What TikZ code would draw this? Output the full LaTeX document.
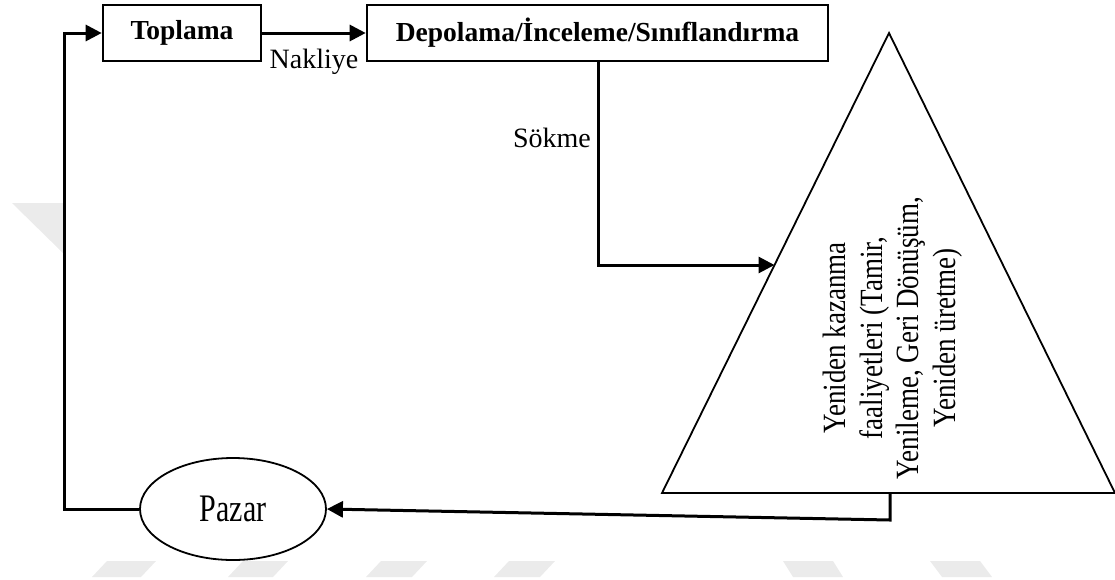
\documentclass[tikz,border=0pt]{standalone}
\usepackage{fontspec}
\setmainfont{Liberation Serif}
\usetikzlibrary{arrows.meta,shapes.geometric}
\tikzset{
  procbox/.style={draw, line width=2.6pt, inner sep=0pt, minimum height=56pt, font=\fontsize{27.5}{32}\selectfont\bfseries},
  flow/.style={line width=3pt, -{Triangle[length=16pt,width=16pt]}},
  lbl/.style={inner sep=0pt, font=\fontsize{28}{33}\selectfont},
  wmark/.style={fill=black!8, draw=none},
}
\begin{document}
\begin{tikzpicture}[x=1pt,y=-1pt]
\useasboundingbox (0,0) rectangle (1115,579);
% faint watermark shapes
\fill[wmark] (12,203) -- (63,203) -- (63,253) -- cycle;
\fill[wmark] (92,577) -- (141,577) -- (156,561) -- (107,561) -- cycle;
\fill[wmark] (228,577) -- (273,577) -- (288,561) -- (243,561) -- cycle;
\fill[wmark] (366,577) -- (412,577) -- (427,561) -- (381,561) -- cycle;
\fill[wmark] (494,577) -- (540,577) -- (555,561) -- (509,561) -- cycle;
\fill[wmark] (783,561) -- (833,561) -- (843,577) -- (793,577) -- cycle;
\fill[wmark] (930,561) -- (980,561) -- (992,577) -- (942,577) -- cycle;

% nodes
\node[procbox, minimum width=158pt] (top) at (182,33) {Toplama};
\node[procbox, minimum width=461pt] (dep) at (597.5,33) {Depolama/İnceleme/Sınıflandırma};
\node[draw, ellipse, line width=1.8pt, minimum width=186pt, minimum height=102pt, inner sep=0pt,
      font=\fontsize{30}{36}\selectfont] (paz) at (233,509) {\scalebox{1}[1.3]{Pazar}};

% triangle
\coordinate (tA) at (889,33);
\coordinate (tB) at (662,493);
\coordinate (tC) at (1115,493);
\draw[line width=1.8pt, line join=miter] (tA) -- (tB) -- (tC) -- cycle;
\node[rotate=90, inner sep=0pt] (tri) at (893,338)
  {\scalebox{1}[1.2]{\fontsize{27}{30.5}\selectfont\begin{tabular}{@{}c@{}}Yeniden kazanma\\faaliyetleri (Tamir,\\Yenileme, Geri Dönüşüm,\\Yeniden üretme)\end{tabular}}};

% labels
\node[lbl, anchor=base] (nak) at (314,68) {Nakliye};
\node[lbl, anchor=base east] (sok) at (591,147) {Sökme};

% helper coordinates
\coordinate (d1) at (598,265);
\coordinate (tin) at (774.5,265);
\coordinate (tbot) at (890,493);
\coordinate (b1) at (890,520);
\coordinate (l1) at (64,509);
\coordinate (l2) at (64,33);

% connectors
\draw[flow] (top.east) -- (dep.west);
\draw[flow] (dep.south -| d1) -- (d1) -- (tin);
\draw[flow] (tbot) -- (b1) -- (paz.east);
\draw[flow] (paz.west) -- (l1) -- (l2) -- (top.west);
\end{tikzpicture}
\end{document}
